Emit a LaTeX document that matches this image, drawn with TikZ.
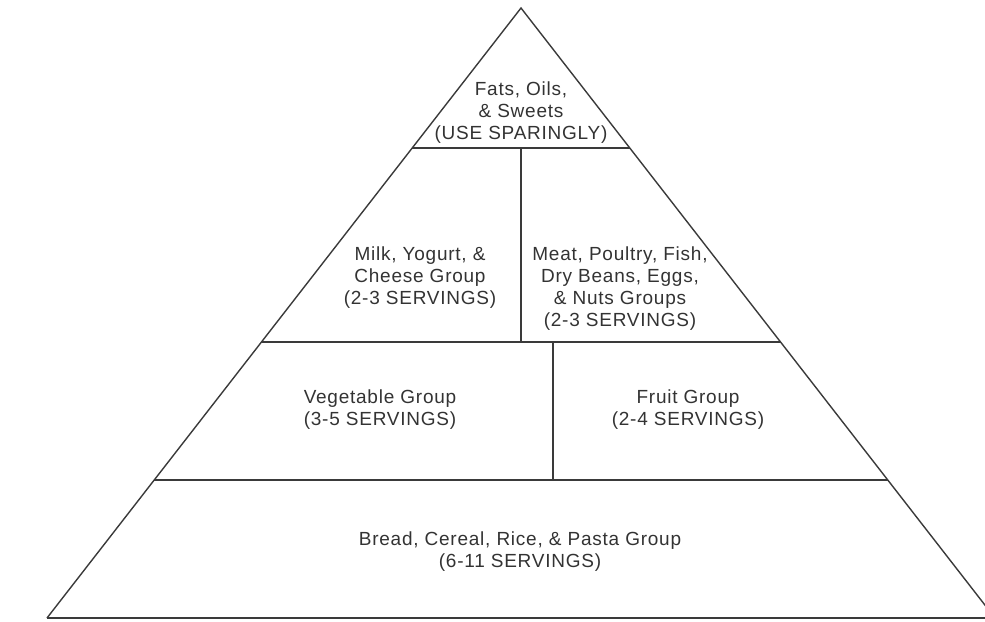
\documentclass[tikz,border=0pt]{standalone}
\usepackage{fontspec}
\setmainfont{Liberation Sans}[LetterSpace=4]
\usetikzlibrary{calc}
\definecolor{linegray}{HTML}{3A3A3A}
\definecolor{textgray}{HTML}{333333}
\tikzstyle{tier}=[draw=linegray, line width=1.4pt]
\tikzstyle{base}=[tier, line width=2.2pt]
\tikzstyle{group}=[align=center, text=textgray, inner sep=0,
                   font=\fontsize{19}{22}\selectfont]

\begin{document}
\begin{tikzpicture}[x=1pt, y=-1pt]
    \useasboundingbox (0,0) rectangle (985,621);
    \clip (0,0) rectangle (985,621);
    \coordinate (top) at (521,8);
    \coordinate (bl) at (47,618);
    \coordinate (br) at (995,618);
    % tier edges
    \coordinate (l1) at ($(top)!0.2295!(bl)$);
    \coordinate (r1) at ($(top)!0.2295!(br)$);
    \coordinate (l2) at ($(top)!0.5475!(bl)$);
    \coordinate (r2) at ($(top)!0.5475!(br)$);
    \coordinate (l3) at ($(top)!0.7738!(bl)$);
    \coordinate (r3) at ($(top)!0.7738!(br)$);
    \coordinate (d2) at (553,342);
    \draw[tier] (bl) -- (top) -- (br);
    \draw[base] (bl) -- (br);
    \draw[tier] (l1) -- (r1);
    \draw[tier] (l2) -- (r2);
    \draw[tier] (l3) -- (r3);
    \draw[tier] (top |- l1) -- (top |- l2);
    \draw[tier] (d2) -- (d2 |- l3);
    % groups
    \node[group] (fats)  at (521,112.5) {Fats, Oils,\\\& Sweets\\(USE SPARINGLY)};
    \node[group] (milk)  at (420,277.5) {Milk, Yogurt, \&\\Cheese Group\\(2-3 SERVINGS)};
    \node[group] (meat)  at (620,288.5) {Meat, Poultry, Fish,\\Dry Beans, Eggs,\\\& Nuts Groups\\(2-3 SERVINGS)};
    \node[group] (veg)   at (380,409.5) {Vegetable Group\\(3-5 SERVINGS)};
    \node[group] (fruit) at (688,409.5) {Fruit Group\\(2-4 SERVINGS)};
    \node[group] (bread) at (520,551.5) {Bread, Cereal, Rice, \& Pasta Group\\(6-11 SERVINGS)};
\end{tikzpicture}
\end{document}
